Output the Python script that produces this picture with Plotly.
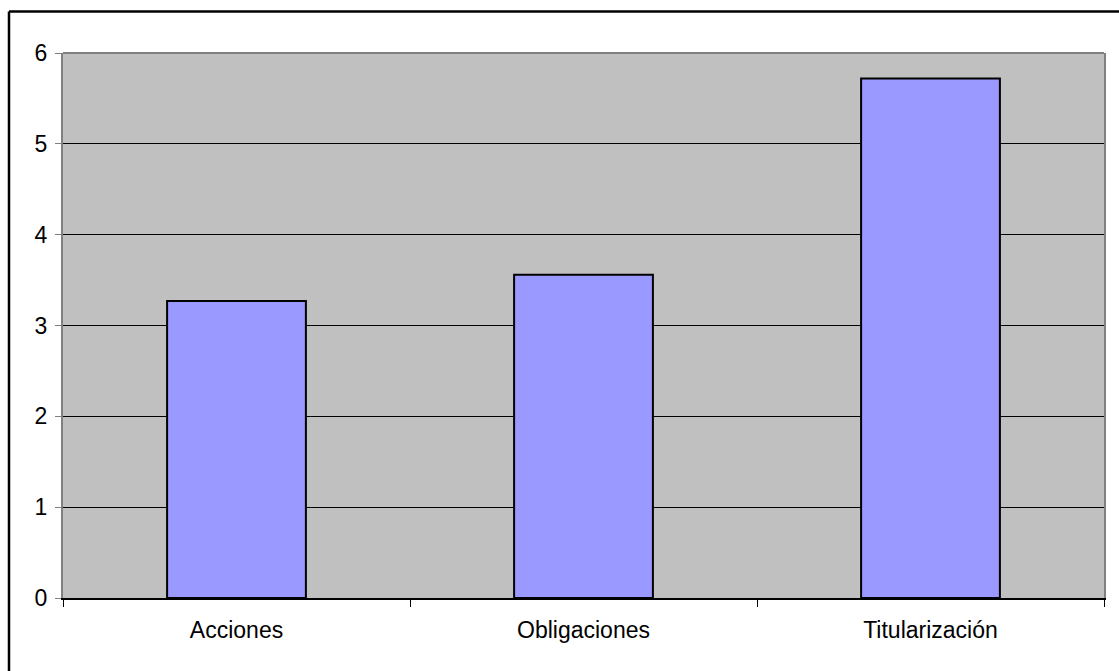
import plotly.graph_objects as go

categories = ["Acciones", "Obligaciones", "Titularización"]
values = [3.27, 3.56, 5.72]
y_ticks = [0, 1, 2, 3, 4, 5, 6]

W, H = 1119, 671
L, R, T, B = 63, 15, 53, 73
pw, ph = W - L - R, H - T - B

fig = go.Figure()
fig.add_trace(go.Bar(
    x=categories,
    y=values,
    width=0.4,
    marker=dict(color="#9999FF", line=dict(color="#000000", width=2)),
    hoverinfo="skip",
))

font = dict(family="Arial, Liberation Sans, sans-serif", size=23, color="#000000")


def px_to_paper_x(px):
    return (px - L) / pw


def px_to_paper_y(py):
    return (H - B - py) / ph


fig.update_layout(
    width=W,
    height=H,
    margin=dict(l=L, r=R, t=T, b=B, pad=0),
    paper_bgcolor="#FFFFFF",
    plot_bgcolor="#C0C0C0",
    showlegend=False,
    bargap=0.6,
    font=font,
    xaxis=dict(
        showgrid=False,
        showline=True,
        linecolor="#000000",
        linewidth=2,
        ticks="outside",
        tickson="boundaries",
        ticklen=7,
        tickcolor="#000000",
        tickwidth=1,
        tickfont=font,
        ticklabelstandoff=10,
        fixedrange=True,
    ),
    yaxis=dict(
        range=[0, 6],
        tickvals=y_ticks,
        showgrid=True,
        gridcolor="#000000",
        gridwidth=1,
        showline=True,
        linecolor="#808080",
        linewidth=2,
        mirror=True,
        ticks="outside",
        ticklen=6,
        tickcolor="#808080",
        tickwidth=1,
        tickfont=font,
        ticklabelstandoff=3,
        zeroline=False,
        fixedrange=True,
    ),
    shapes=[
        # plot-area top edge
        dict(type="line", xref="paper", yref="paper", x0=0, x1=1, y0=1, y1=1,
             line=dict(color="#808080", width=2), layer="above"),
        # outer chart frame (left and top edges visible)
        dict(type="line", xref="paper", yref="paper",
             x0=px_to_paper_x(9), x1=px_to_paper_x(9),
             y0=px_to_paper_y(H + 5), y1=px_to_paper_y(11.5),
             line=dict(color="#000000", width=2.5), layer="above"),
        dict(type="line", xref="paper", yref="paper",
             x0=px_to_paper_x(9), x1=px_to_paper_x(W + 5),
             y0=px_to_paper_y(11.5), y1=px_to_paper_y(11.5),
             line=dict(color="#000000", width=2.5), layer="above"),
    ],
)

fig.write_html("out.html")
